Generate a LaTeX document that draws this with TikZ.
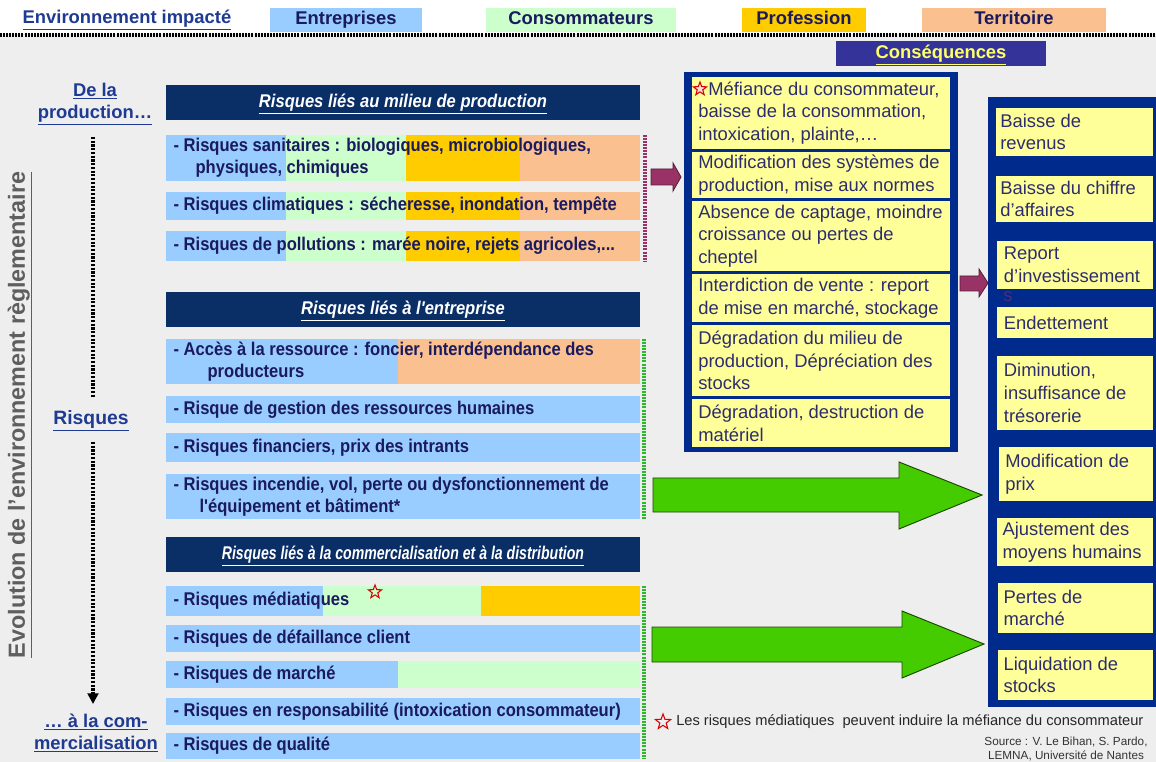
\documentclass[tikz,border=0pt]{standalone}
\usepackage{fontspec}
\setmainfont{Liberation Sans}
\newfontfamily\nar[FakeStretch=0.9]{Liberation Sans}
\usetikzlibrary{fit,arrows.meta,shapes.geometric}
\definecolor{bg}{HTML}{EEEEEE}
\definecolor{cblue}{HTML}{99CCFF}
\definecolor{cgreen}{HTML}{CCFFCC}
\definecolor{cgold}{HTML}{FFCC00}
\definecolor{cpeach}{HTML}{FAC090}
\definecolor{hdrnavy}{HTML}{0A2F66}
\definecolor{framenavy}{HTML}{002A8C}
\definecolor{cyellow}{HTML}{FFFF99}
\definecolor{consq}{HTML}{333399}
\definecolor{consqtext}{HTML}{FFFF66}
\definecolor{purp}{HTML}{993366}
\definecolor{garrow}{HTML}{44CC00}
\definecolor{rowtext}{HTML}{1A1A5E}
\definecolor{celltext}{HTML}{2D2D6E}
\definecolor{lblue}{HTML}{1F3A93}
\definecolor{dotgreen}{HTML}{2EB82E}
\definecolor{evogray}{HTML}{5E5E5E}
\tikzset{
  box/.style={inner sep=0pt, outer sep=0pt},
  rowbox/.style={box, fill=cblue},
  rowtxt/.style={anchor=west, align=left, inner sep=0pt, text=rowtext, font=\nar\bfseries\fontsize{13.8}{16.5}\selectfont},
  hdr/.style={box, fill=hdrnavy},
  hdrtxt/.style={inner sep=0pt, text height=10pt, text depth=3pt, text=white, font=\nar\bfseries\itshape\fontsize{13.8}{16.5}\selectfont},
  legbox/.style={box},
  legtxt/.style={inner sep=0pt, text height=10pt, text depth=3pt, text=rowtext, font=\bfseries\fontsize{13.8}{16}\selectfont},
  lbl/.style={align=center, inner sep=0pt, text=lblue, font=\bfseries\fontsize{13.8}{16.5}\selectfont},
  frame/.style={box, fill=framenavy},
  cell/.style={box, fill=cyellow},
  celltxt/.style={anchor=west, align=left, inner sep=0pt, text=celltext, font=\fontsize{13.8}{17}\selectfont},
  dotline/.style={line width=2.6pt, dash pattern=on 1.6pt off 1.2pt},
  rowdots/.style={line width=3pt, dash pattern=on 1.5pt off 0.8pt},
  purparrow/.style={fill=purp, draw=purp!55!black, line width=0.6pt},
  greenarrow/.style={fill=garrow, draw=garrow!35!black, line width=0.7pt},
  starmark/.style={star, star points=5, star point ratio=2.4, draw=red!85!black, line width=0.8pt, inner sep=0pt, minimum size=10.5pt},
}
\begin{document}
\begin{tikzpicture}[x=0.75pt,y=-0.75pt]
\useasboundingbox (0,0) rectangle (1156,762);
\fill[bg] (0,0) rectangle (1156,762);
\fill[white] (0,0) rectangle (1156,34);
\draw[line width=2.6pt, dash pattern=on 1.5pt off 0.8pt] (0,35) -- (1156,35);

% legend
\node[lbl] (env) at (127,20) {\underline{Environnement impacté}};
\node[legbox, fill=cblue, fit={(270,8) (422,32)}] (lent) {};
\node[legtxt] at (lent.center) {Entreprises};
\node[legbox, fill=cgreen, fit={(486,8) (676,32)}] (lcons) {};
\node[legtxt] at (lcons.center) {Consommateurs};
\node[legbox, fill=cgold, fit={(742,8) (866,32)}] (lprof) {};
\node[legtxt] at (lprof.center) {Profession};
\node[legbox, fill=cpeach, fit={(922,8) (1106,32)}] (lterr) {};
\node[legtxt] at (lterr.center) {Territoire};
\node[box, fill=consq, fit={(836,41) (1046,66)}] (cons) {};
\node[legtxt, text=consqtext] at (cons.center) {\underline{Conséquences}};

% left column
\node[rotate=90, inner sep=0pt, text=evogray, font=\bfseries\fontsize{17.5}{20}\selectfont] (evo) at (20,415) {\underline{Evolution de l'environnement règlementaire}};
\node[lbl] (dela) at (95,104) {\underline{De la}\\\underline{production…}};
\node[lbl, font=\bfseries\fontsize{14.5}{16}\selectfont] (risq) at (91,421) {\underline{Risques}};
\node[lbl] (alacom) at (96,733) {\underline{… à la com-}\\\underline{mercialisation}};
\coordinate (d1) at (93,137);
\coordinate (d2) at (93,398);
\coordinate (d3) at (93,442);
\coordinate (d4) at (93,704);
\draw[dotline] (d1) -- (d2);
\draw[dotline, -{Triangle[length=8pt,width=8pt]}] (d3) -- (d4);

% group 1
\node[hdr, fit={(166,85) (640,120)}] (h1) {};
\node[hdrtxt] at (h1.center) {\underline{Risques liés au milieu de production}};
\node[rowbox, fit={(166,135) (640,181)}] (r1) {};
\fill[cgreen] (286,135) rectangle (406,181);
\fill[cgold] (406,135) rectangle (520,181);
\fill[cpeach] (520,135) rectangle (640,181);
\node[rowtxt] (t1) at ([xshift=5.5pt]r1.west) {- Risques sanitaires : biologiques, microbiologiques,\\\hspace*{16.5pt}physiques, chimiques};
\node[rowbox, fit={(166,192) (640,220)}] (r2) {};
\fill[cgreen] (286,192) rectangle (406,220);
\fill[cgold] (406,192) rectangle (520,220);
\fill[cpeach] (520,192) rectangle (640,220);
\node[rowtxt] (t2) at ([xshift=5.5pt]r2.west) {- Risques climatiques : sécheresse, inondation, tempête};
\node[rowbox, fit={(166,231) (640,261)}] (r3) {};
\fill[cgreen] (286,231) rectangle (406,261);
\fill[cgold] (406,231) rectangle (520,261);
\fill[cpeach] (520,231) rectangle (640,261);
\node[rowtxt] (t3) at ([xshift=5.5pt]r3.west) {- Risques de pollutions : marée noire, rejets agricoles,...};
\draw[rowdots, purp] ([xshift=3.75pt]r1.north east) -- ([xshift=3.75pt]r3.south east);

% group 2
\node[hdr, fit={(166,292) (640,327)}] (h2) {};
\node[hdrtxt] at (h2.center) {\underline{Risques liés à l'entreprise}};
\node[rowbox, fit={(166,339) (640,384)}] (r4) {};
\fill[cpeach] (398,339) rectangle (640,384);
\node[rowtxt] (t4) at ([xshift=5.5pt]r4.west) {- Accès à la ressource : foncier, interdépendance des\\\hspace*{25.5pt}producteurs};
\node[rowbox, fit={(166,396) (640,423)}] (r5) {};
\node[rowtxt] (t5) at ([xshift=5.5pt]r5.west) {- Risque de gestion des ressources humaines};
\node[rowbox, fit={(166,433) (640,462)}] (r6) {};
\node[rowtxt] (t6) at ([xshift=5.5pt]r6.west) {- Risques financiers, prix des intrants};
\node[rowbox, fit={(166,474) (640,519)}] (r7) {};
\node[rowtxt] (t7) at ([xshift=5.5pt]r7.west) {- Risques incendie, vol, perte ou dysfonctionnement de\\\hspace*{19.5pt}l'équipement et bâtiment*};
\draw[rowdots, dotgreen] ([xshift=3pt]r4.north east) -- ([xshift=3pt]r7.south east);

% group 3
\node[hdr, fit={(166,537) (640,572)}] (h3) {};
\node[hdrtxt] at (h3.center) {\scalebox{0.85}[1]{\underline{Risques liés à la commercialisation et à la distribution}}};
\node[rowbox, fit={(166,586) (640,616)}] (r8) {};
\fill[cgreen] (323,586) rectangle (481,616);
\fill[cgold] (481,586) rectangle (640,616);
\node[rowtxt] (t8) at ([xshift=5.5pt]r8.west) {- Risques médiatiques};
\node[starmark] (s2) at (375,592) {};
\node[rowbox, fit={(166,625) (640,652)}] (r9) {};
\node[rowtxt] (t9) at ([xshift=5.5pt]r9.west) {- Risques de défaillance client};
\node[rowbox, fit={(166,661) (640,688)}] (r10) {};
\fill[cgreen] (398,661) rectangle (640,688);
\node[rowtxt] (t10) at ([xshift=5.5pt]r10.west) {- Risques de marché};
\node[rowbox, fit={(166,698) (640,725)}] (r11) {};
\node[rowtxt] (t11) at ([xshift=5.5pt]r11.west) {- Risques en responsabilité (intoxication consommateur)};
\node[rowbox, fit={(166,733) (640,759)}] (r12) {};
\node[rowtxt] (t12) at ([xshift=5.5pt]r12.west) {- Risques de qualité};
\draw[rowdots, dotgreen] ([xshift=3pt]r8.north east) -- ([xshift=3pt]r12.south east);

% middle consequences
\node[frame, fit={(684,72) (958,452)}] (mframe) {};
\node[cell, fit={(692,77) (950,149)}] (c1) {};
\node[cell, fit={(692,152) (950,198)}] (c2) {};
\node[cell, fit={(692,201) (950,271)}] (c3) {};
\node[cell, fit={(692,274) (950,322)}] (c4) {};
\node[cell, fit={(692,325) (950,396)}] (c5) {};
\node[cell, fit={(692,399) (950,447)}] (c6) {};
\node[celltxt] (ct1) at ([xshift=4.5pt]c1.west) {\hspace*{7.5pt}Méfiance du consommateur,\\baisse de la consommation,\\intoxication, plainte,…};
\node[starmark, fill=red!15] (s1) at (700,89) {};
\node[celltxt] (ct2) at ([xshift=4.5pt]c2.west) {Modification des systèmes de\\production, mise aux normes};
\node[celltxt] (ct3) at ([xshift=4.5pt]c3.west) {Absence de captage, moindre\\croissance ou pertes de\\cheptel};
\node[celltxt] (ct4) at ([xshift=4.5pt]c4.west) {Interdiction de vente : report\\de mise en marché, stockage};
\node[celltxt] (ct5) at ([xshift=4.5pt]c5.west) {Dégradation du milieu de\\production, Dépréciation des\\stocks};
\node[celltxt] (ct6) at ([xshift=4.5pt]c6.west) {Dégradation, destruction de\\matériel};

% right consequences
\node[frame, fit={(988,97) (1160,707)}] (rframe) {};
\node[cell, fit={(996,108) (1153,156)}] (e1) {};
\node[cell, fit={(996,176) (1153,222)}] (e2) {};
\node[cell, fit={(997,241) (1153,289)}] (e3) {};
\node[cell, fit={(997,307) (1153,338)}] (e4) {};
\node[cell, fit={(997,356) (1153,430)}] (e5) {};
\node[cell, fit={(999,447) (1153,501)}] (e6) {};
\node[cell, fit={(997,518) (1153,566)}] (e7) {};
\node[cell, fit={(998,583) (1153,633)}] (e8) {};
\node[cell, fit={(998,650) (1153,700)}] (e9) {};
\node[celltxt] (et1) at ([xshift=3pt]e1.west) {Baisse de\\revenus};
\node[celltxt] (et2) at ([xshift=3pt]e2.west) {Baisse du chiffre\\d'affaires};
\node[celltxt] (et3) at ([xshift=5pt]e3.west) {Report\\d'investissement};
\node[celltxt, text=purp!50!framenavy] (et3s) at (1003,297) {s};
\node[celltxt] (et4) at ([xshift=5pt]e4.west) {Endettement};
\node[celltxt] (et5) at ([xshift=5pt]e5.west) {Diminution,\\insuffisance de\\trésorerie};
\node[celltxt] (et6) at ([xshift=4.5pt]e6.west) {Modification de\\prix};
\node[celltxt] (et7) at ([xshift=4pt]e7.west) {Ajustement des\\moyens humains};
\node[celltxt] (et8) at ([xshift=4pt]e8.west) {Pertes de\\marché};
\node[celltxt] (et9) at ([xshift=4pt]e9.west) {Liquidation de\\stocks};

% arrows
\draw[purparrow] (651,169) -- (673,169) -- (673,163) -- (681,177) -- (673,191) -- (673,185) -- (651,185) -- cycle;
\draw[purparrow] (960,276) -- (979,276) -- (979,269) -- (988,283) -- (979,297) -- (979,291) -- (960,291) -- cycle;
\draw[greenarrow] (653,478) -- (899,478) -- (899,462) -- (982,495) -- (899,529) -- (899,512) -- (653,512) -- cycle;
\draw[greenarrow] (652,627) -- (902,627) -- (902,611) -- (984,644) -- (902,678) -- (902,662) -- (652,662) -- cycle;

% footnote and source
\node[starmark, minimum size=12pt] (s3) at (663,722) {};
\node[anchor=west, inner sep=0pt, text=black!85, font=\fontsize{11}{13}\selectfont] (fn) at (676,722) {Les risques médiatiques\ \ peuvent induire la méfiance du consommateur};
\node[align=center, inner sep=0pt, text=black!80, font=\fontsize{8.8}{10.5}\selectfont] (src) at (1066,749) {Source : V. Le Bihan, S. Pardo,\\LEMNA, Université de Nantes};
\end{tikzpicture}
\end{document}
